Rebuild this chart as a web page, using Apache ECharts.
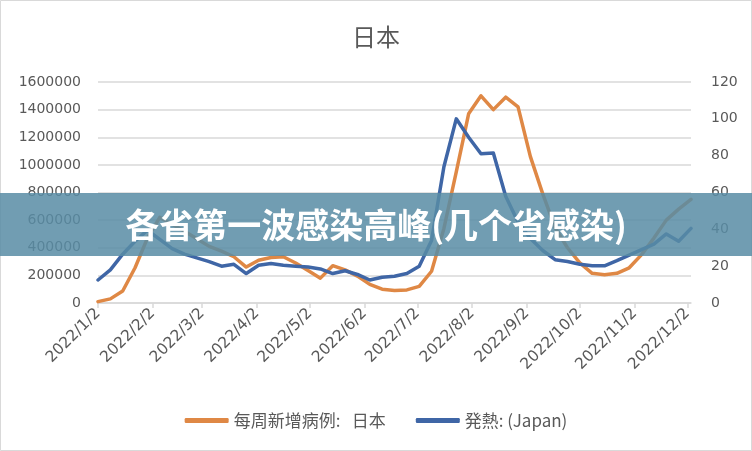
<!DOCTYPE html>
<html lang="zh">
<head>
<meta charset="UTF-8">
<title>日本</title>
<script src="https://cdn.jsdelivr.net/npm/echarts@6/dist/echarts.min.js"></script>
<style>
  html, body { margin: 0; padding: 0; background: #fff; }
  #main { width: 752px; height: 451px; }
</style>
</head>
<body>
<div id="main"></div>
<script>
// 周数据，从 2022/1/2 起每周一个点
var startDate = '2022/1/2';
var weekCount = 49;

// 每周新增病例（左轴）
var casesData = [
  10000, 30000, 87000, 255000, 470000, 620000, 570000, 520000, 465000, 410000,
  375000, 335000, 260000, 310000, 330000, 335000, 290000, 235000, 180000, 270000,
  240000, 195000, 135000, 100000, 90000, 95000, 120000, 230000, 540000, 950000,
  1370000, 1500000, 1400000, 1490000, 1420000, 1060000, 790000, 545000, 400000, 290000,
  215000, 205000, 215000, 255000, 350000, 470000, 600000, 680000, 750000
];

// 発熱（右轴）
var feverData = [
  12.5, 18, 26.5, 33.5, 39.5, 34.5, 29.5, 26.5, 24.5, 22.5,
  20, 21, 16, 20.5, 21.5, 20.5, 20, 19.5, 18.5, 16,
  17.5, 15.5, 12.5, 14, 14.5, 16, 20, 34, 74, 100,
  90, 81, 81.5, 58, 44, 35, 28.5, 23.5, 22.5, 21,
  20.2, 20.2, 23, 26, 29, 32, 37.5, 33.5, 40.5
];

// 月度刻度标签
var monthLabels = ['2022/1/2', '2022/2/2', '2022/3/2', '2022/4/2', '2022/5/2', '2022/6/2',
  '2022/7/2', '2022/8/2', '2022/9/2', '2022/10/2', '2022/11/2', '2022/12/2'];

var legendNames = ['每周新增病例:   日本', '発熱: (Japan)'];
var bannerText = '各省第一波感染高峰(几个省感染)';

// 日期 -> 距起始日的天数（x 轴用天数做数值轴）
function parseDay(s) {
  var p = s.split('/');
  return Date.UTC(+p[0], +p[1] - 1, +p[2]) / 86400000;
}
var day0 = parseDay(startDate);
var tickDays = monthLabels.map(function (s) { return parseDay(s) - day0; });
var labelByDay = {};
tickDays.forEach(function (d, i) { labelByDay[d] = monthLabels[i]; });

var weekDays = [];
for (var i = 0; i < weekCount; i++) weekDays.push(i * 7);

var casesSeries = weekDays.map(function (d, i) { return [d, casesData[i]]; });
var feverSeries = weekDays.map(function (d, i) { return [d, feverData[i]]; });

var numFont = 'DejaVu Sans';
var cjkFont = 'Noto Sans CJK SC';
var txtColor = '#595959';

var chart = echarts.init(document.getElementById('main'));

chart.setOption({
  animation: false,
  backgroundColor: '#fff',
  title: {
    text: '日本',
    left: 'center',
    top: 20,
    textStyle: { fontSize: 24, fontWeight: 'normal', color: txtColor, fontFamily: cjkFont }
  },
  grid: {
    left: 98, right: 61, top: 82, bottom: 148,
    outerBoundsMode: 'none'
  },
  legend: {
    top: 407,
    left: 'center',
    itemGap: 30,
    itemWidth: 44,
    itemHeight: 5,
    icon: 'roundRect',
    textStyle: { fontSize: 17, color: txtColor, fontFamily: cjkFont },
    data: legendNames
  },
  xAxis: {
    type: 'value',
    min: 0,
    max: weekDays[weekDays.length - 1],
    axisLine: { show: true, onZero: false, lineStyle: { color: '#d9d9d9', width: 1.5 } },
    axisTick: { show: true, customValues: tickDays, length: 5, lineStyle: { color: '#d9d9d9', width: 1.5 } },
    axisLabel: {
      customValues: tickDays,
      rotate: 45,
      margin: 8,
      fontSize: 15.5,
      color: txtColor,
      fontFamily: numFont,
      formatter: function (v) { return labelByDay[v] || ''; }
    },
    splitLine: { show: false }
  },
  yAxis: [
    {
      type: 'value',
      min: 0, max: 1600000, interval: 200000,
      axisLine: { show: false },
      axisTick: { show: false },
      axisLabel: {
        margin: 17, fontSize: 14, color: txtColor, fontFamily: numFont,
        formatter: function (v) { return String(v); }
      },
      splitLine: { lineStyle: { color: '#d9d9d9', width: 1.5 } }
    },
    {
      type: 'value',
      min: 0, max: 120, interval: 20,
      axisLine: { show: false },
      axisTick: { show: false },
      axisLabel: { margin: 20, fontSize: 14, color: txtColor, fontFamily: numFont },
      splitLine: { show: false }
    }
  ],
  series: [
    {
      name: legendNames[0],
      type: 'line',
      yAxisIndex: 0,
      data: casesSeries,
      showSymbol: false,
      symbol: 'none',
      lineStyle: { color: '#DF8845', width: 3.5, cap: 'round', join: 'round' },
      itemStyle: { color: '#DF8845' }
    },
    {
      name: legendNames[1],
      type: 'line',
      yAxisIndex: 1,
      data: feverSeries,
      showSymbol: false,
      symbol: 'none',
      lineStyle: { color: '#3F66A6', width: 3.5, cap: 'round', join: 'round' },
      itemStyle: { color: '#3F66A6' }
    }
  ],
  graphic: [
    {
      type: 'rect',
      z: 1,
      shape: { x: 0.5, y: 0.5, width: 751, height: 450 },
      style: { fill: 'none', stroke: '#d9d9d9', lineWidth: 1 }
    },
    {
      type: 'rect',
      z: 100,
      shape: { x: 0, y: 193, width: 752, height: 63 },
      style: { fill: 'rgba(88,140,165,0.85)' }
    },
    {
      type: 'text',
      z: 101,
      x: 376,
      y: 225,
      style: {
        text: bannerText,
        fill: '#fff',
        font: 'bold 34px "Noto Sans CJK SC"',
        textAlign: 'center',
        textVerticalAlign: 'middle'
      }
    }
  ]
});
</script>
</body>
</html>
